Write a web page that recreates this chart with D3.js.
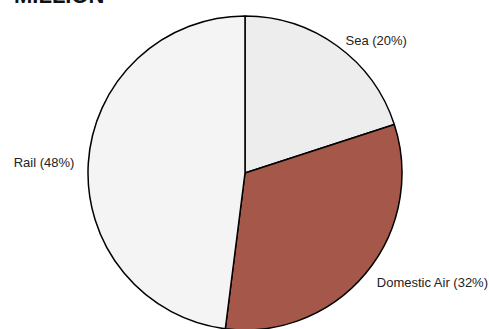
<!DOCTYPE html>
<html>
<head>
<meta charset="utf-8">
<script src="https://cdn.jsdelivr.net/npm/d3@7"></script>
<style>
  body { margin: 0; background: #fff; }
  svg { display: block; }
  .label { font-family: 'Liberation Sans', Arial, sans-serif; font-size: 13px; fill: #222; }
  .title { font-family: 'Liberation Sans', Arial, sans-serif; font-size: 22px; font-weight: bold; fill: #111; }
</style>
</head>
<body>
<script>
const categories = ['Sea', 'Domestic Air', 'Rail']
const shares = [20, 32, 48]
const colors = ['#ededed', '#a5584a', '#f4f4f4']

const width = 489
const height = 329
const cx = 245
const cy = 173
const radius = 157

const svg = d3.select('body').append('svg')
  .attr('width', width)
  .attr('height', height)

svg.append('text')
  .attr('class', 'title')
  .attr('x', 14)
  .attr('y', 3)
  .text('MILLION')

const data = categories.map((c, i) => ({ name: c, value: shares[i], color: colors[i] }))

const pie = d3.pie().sort(null).value(d => d.value)
const arc = d3.arc().innerRadius(0).outerRadius(radius)
const labelArc = d3.arc().innerRadius(radius + 14).outerRadius(radius + 14)

const g = svg.append('g').attr('transform', `translate(${cx},${cy})`)

const slices = g.selectAll('.slice').data(pie(data))
  .enter().append('g')
  .attr('class', 'slice')

slices.append('path')
  .attr('d', arc)
  .attr('fill', d => d.data.color)
  .attr('stroke', '#000')
  .attr('stroke-width', 1.5)
  .attr('stroke-linejoin', 'round')

// labels sit just outside the rim, pushed a little lower near the top
slices.append('text')
  .attr('class', 'label')
  .attr('transform', d => {
    const [x, y] = labelArc.centroid(d)
    return `translate(${x},${y < -100 ? y + 6 : y})`
  })
  .attr('dy', '0.35em')
  .attr('text-anchor', d => ((d.startAngle + d.endAngle) / 2 < Math.PI ? 'start' : 'end'))
  .text(d => `${d.data.name} (${d.data.value}%)`)
</script>
</body>
</html>
